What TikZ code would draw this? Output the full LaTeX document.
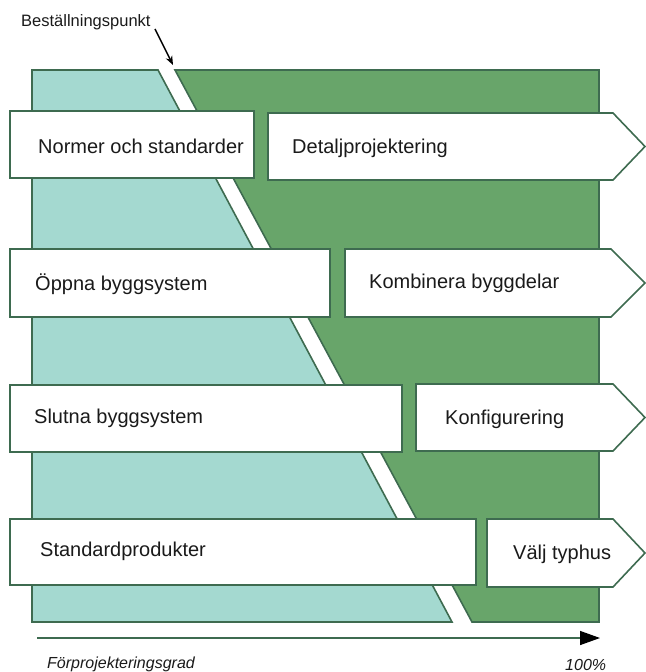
\documentclass[tikz,border=0pt]{standalone}
\usepackage{fontspec}
\setmainfont{Liberation Sans}
\usetikzlibrary{arrows.meta}
\definecolor{lightzone}{HTML}{A4D9D0}
\definecolor{darkzone}{HTML}{68A56A}
\definecolor{edgegreen}{HTML}{3E6B50}
\definecolor{inktext}{HTML}{1A1A1A}
\tikzset{
  zone/.style={draw=edgegreen, line width=1.6bp, line join=miter},
  stepbox/.style={draw=edgegreen, fill=white, line width=1.6bp, line join=miter},
  boxtext/.style={anchor=west, inner sep=0pt, text=inktext, font=\fontsize{20bp}{24bp}\selectfont},
  axislabel/.style={anchor=base west, inner sep=0pt, text=inktext, font=\fontsize{16bp}{19bp}\selectfont\itshape},
}
\begin{document}
\begin{tikzpicture}[x=1bp, y=-1bp]
\useasboundingbox (0,0) rectangle (646,672);

% zones left and right of the order point
\draw[zone, fill=lightzone] (32,70) -- (158,70) -- (452,622) -- (32,622) -- cycle;
\draw[zone, fill=darkzone] (175,70) -- (599,70) -- (599,622) -- (472,622) -- cycle;

% left column: rectangular boxes
\draw[stepbox] (10,111) rectangle (254,178);
\draw[stepbox] (10,249) rectangle (330,317);
\draw[stepbox] (10,385) rectangle (402,452);
\draw[stepbox] (10,519) rectangle (476,585);

% right column: arrow-shaped boxes
\draw[stepbox] (268,113) -- (613,113) -- (645,146.5) -- (613,180) -- (268,180) -- cycle;
\draw[stepbox] (345,249) -- (611,249) -- (645,283) -- (611,317) -- (345,317) -- cycle;
\draw[stepbox] (416,384) -- (613,384) -- (645,417.5) -- (613,451) -- (416,451) -- cycle;
\draw[stepbox] (487,519) -- (613,519) -- (645,553) -- (613,587) -- (487,587) -- cycle;

% box labels
\node[boxtext] (normer) at (38,146) {Normer och standarder};
\node[boxtext] (oppna) at (35,284) {Öppna byggsystem};
\node[boxtext] (slutna) at (34,418) {Slutna byggsystem};
\node[boxtext] (standard) at (40,551) {Standardprodukter};
\node[boxtext] (detalj) at (292,148) {Detaljprojektering};
\node[boxtext] (kombinera) at (369,283) {Kombinera byggdelar};
\node[boxtext] (konfig) at (445,419) {Konfigurering};
\node[boxtext] (valj) at (513,554) {Välj typhus};

% order point callout
\node[anchor=base west, inner sep=0pt, text=inktext, font=\fontsize{16.5bp}{19bp}\selectfont] (best) at (21,27) {Beställningspunkt};
\coordinate (bestfrom) at (155,29);
\coordinate (bestto) at (173,65);
\draw[-{Stealth[length=9bp,width=7bp]}, line width=1.4bp] (bestfrom) -- (bestto);

% degree axis
\coordinate (axstart) at (37,638);
\coordinate (axend) at (600,638);
\draw[draw=edgegreen, line width=1.4bp, -{Triangle[length=20bp,width=14bp,black]}] (axstart) -- (axend);
\node[axislabel] (grad) at (47,668) {Förprojekteringsgrad};
\node[axislabel] (hundra) at (565,670) {100\%};
\end{tikzpicture}
\end{document}
